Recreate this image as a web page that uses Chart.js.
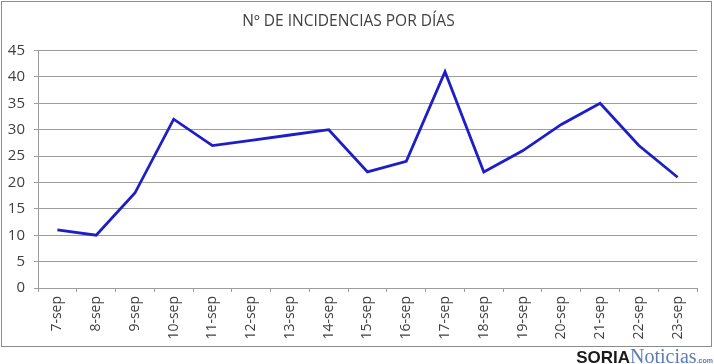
<!DOCTYPE html>
<html>
<head>
<meta charset="utf-8">
<script src="https://cdn.jsdelivr.net/npm/chart.js@4/dist/chart.umd.min.js"></script>
<style>
  body { margin: 0; background: #fff; }
  #wrap { position: relative; width: 714px; height: 364px; }
  #chart { position: absolute; left: 0; top: 0; }
  #marca { position: absolute; right: 1px; top: 345px; white-space: nowrap; }
  #marca .soria { font-family: "Liberation Sans", Arial, sans-serif; font-weight: bold; font-size: 17px; color: #1a1a1a; }
  #marca .noticias { font-family: "Liberation Serif", serif; font-size: 20px; color: #5b7db4; }
  #marca .com { font-family: "Liberation Sans", sans-serif; font-size: 7px; font-weight: bold; color: #5b7db4; }
</style>
</head>
<body>
<div id="wrap">
  <canvas id="chart" width="714" height="348"></canvas>
  <div id="marca"><span class="soria">SORIA</span><span class="noticias">Noticias</span><span class="com">.com</span></div>
</div>
<script>
var dias = ['7-sep', '8-sep', '9-sep', '10-sep', '11-sep', '12-sep', '13-sep', '14-sep', '15-sep',
            '16-sep', '17-sep', '18-sep', '19-sep', '20-sep', '21-sep', '22-sep', '23-sep'];
var incidencias = [11, 10, 18, 32, 27, 28, 29, 30, 22, 24, 41, 22, 26, 31, 35, 27, 21];
var titulo = 'Nº DE INCIDENCIAS POR DÍAS';

var gris = '#9c9c9c';
var texto = '#404040';

// marco gris alrededor del grafico
var marco = {
    id: 'marco',
    beforeDraw: function(chart) {
        var ctx = chart.ctx;
        ctx.save();
        ctx.fillStyle = '#fff';
        ctx.fillRect(0, 0, chart.width, chart.height);
        ctx.strokeStyle = '#8c8c8c';
        ctx.lineWidth = 1;
        ctx.strokeRect(1.5, 1.5, 710, 345);
        ctx.restore();
    }
};

var ctx = document.getElementById('chart').getContext('2d');
var grafico = new Chart(ctx, {
    type: 'line',
    data: {
        labels: dias,
        datasets: [{
            data: incidencias,
            borderColor: '#1e1ec6',
            borderWidth: 2.8,
            pointRadius: 0,
            tension: 0,
            fill: false
        }]
    },
    options: {
        responsive: false,
        animation: false,
        layout: {
            padding: { left: 0, right: 17, top: 0, bottom: 0 }
        },
        plugins: {
            legend: { display: false },
            tooltip: { enabled: false },
            title: {
                display: true,
                text: titulo,
                color: texto,
                font: { family: 'Open Sans', size: 15.5, weight: 'normal' },
                padding: { top: 12, bottom: 20 }
            }
        },
        scales: {
            x: {
                offset: true,
                afterFit: function(scale) { scale.height = 60; },
                grid: {
                    offset: true,
                    drawOnChartArea: false,
                    drawTicks: true,
                    tickLength: 4,
                    color: gris
                },
                border: { color: gris },
                ticks: {
                    minRotation: 90,
                    maxRotation: 90,
                    autoSkip: false,
                    padding: 4,
                    color: texto,
                    font: { family: 'Open Sans', size: 14 }
                }
            },
            y: {
                min: 0,
                max: 45,
                afterFit: function(scale) { scale.width = 38; },
                grid: {
                    color: gris,
                    lineWidth: 1,
                    drawTicks: true,
                    tickLength: 4
                },
                border: { color: gris },
                ticks: {
                    stepSize: 5,
                    padding: 9,
                    color: texto,
                    font: { family: 'Open Sans', size: 15 }
                }
            }
        }
    },
    plugins: [marco]
});
</script>
</body>
</html>
